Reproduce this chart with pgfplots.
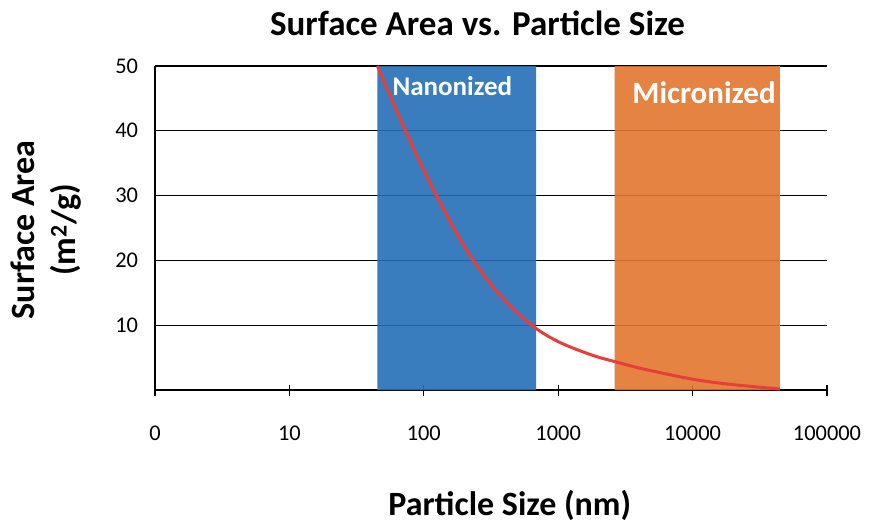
\documentclass[border=0pt]{standalone}
\usepackage{fontspec}
\setmainfont{Carlito}
\usepackage{pgfplots}
\pgfplotsset{compat=1.18}

\definecolor{nanoblue}{RGB}{36,111,183}
\definecolor{microorange}{RGB}{225,117,46}
\definecolor{curvered}{RGB}{232,62,58}

\begin{document}
\begin{tikzpicture}[x=1pt,y=1pt]
\path (0,0) rectangle (878,523);
\begin{axis}[
  at={(155pt,133pt)}, anchor=south west,
  scale only axis,
  width=672pt, height=324pt,
  xmin=0, xmax=5, ymin=0, ymax=50,
  axis x line=bottom, axis y line=left,
  axis line style={black, line width=1.2pt, -},
  xtick={0,1,2,3,4,5},
  xticklabels={0,10,100,1000,10000,100000},
  ytick={10,20,30,40,50},
  ymajorgrids=true,
  grid style={black, line width=1.2pt},
  tick align=center,
  major tick length=11pt,
  x tick style={black, line width=1.2pt},
  ytick style={draw=none},
  /pgf/number format/assume math mode=true,
  tick label style={font=\fontsize{22.4}{26}\selectfont},
  xticklabel style={anchor=center, yshift=-38pt},
  yticklabel style={anchor=east, xshift=-8pt},
  title={Surface Area vs. Particle Size},
  title style={font=\bfseries\fontsize{35}{38}\selectfont, at={(axis description cs:0.48,1.112)}, anchor=center},
  xlabel={Particle Size (nm)},
  xlabel style={font=\bfseries\fontsize{34}{37}\selectfont, at={(axis description cs:0.528,-0.355)}, anchor=center},
  ylabel={Surface Area\\(m\textsuperscript{2}/g)},
  ylabel style={font=\bfseries\fontsize{34}{41}\selectfont, align=center, inner sep=0pt, at={(axis description cs:-0.162,0.494)}, anchor=center},
  clip=false,
]
\addplot[draw=none, fill=nanoblue, fill opacity=0.9]
  coordinates {(1.655,0) (1.655,50) (2.835,50) (2.835,0)} \closedcycle;
\addplot[draw=none, fill=microorange, fill opacity=0.9]
  coordinates {(3.42,0) (3.42,50) (4.65,50) (4.65,0)} \closedcycle;
\addplot[curvered, line width=3pt, smooth, tension=0.55]
  coordinates {
    (1.655,50) (1.760,44.9) (1.860,40.2) (1.975,35.0) (2.096,29.9)
    (2.225,24.9) (2.368,20) (2.580,14.3) (2.803,10) (3.001,7.45)
    (3.249,5.4) (3.423,4.37) (3.571,3.55) (3.708,2.9) (4.005,1.65)
    (4.278,0.88) (4.650,0.15)
  };
\node[text=white, font=\bfseries\fontsize{27}{30}\selectfont] at (axis cs:2.212,46.9) {Nanonized};
\node[text=white, font=\bfseries\fontsize{31}{34}\selectfont] at (axis cs:4.085,45.8) {Micronized};
\end{axis}
\end{tikzpicture}
\end{document}
